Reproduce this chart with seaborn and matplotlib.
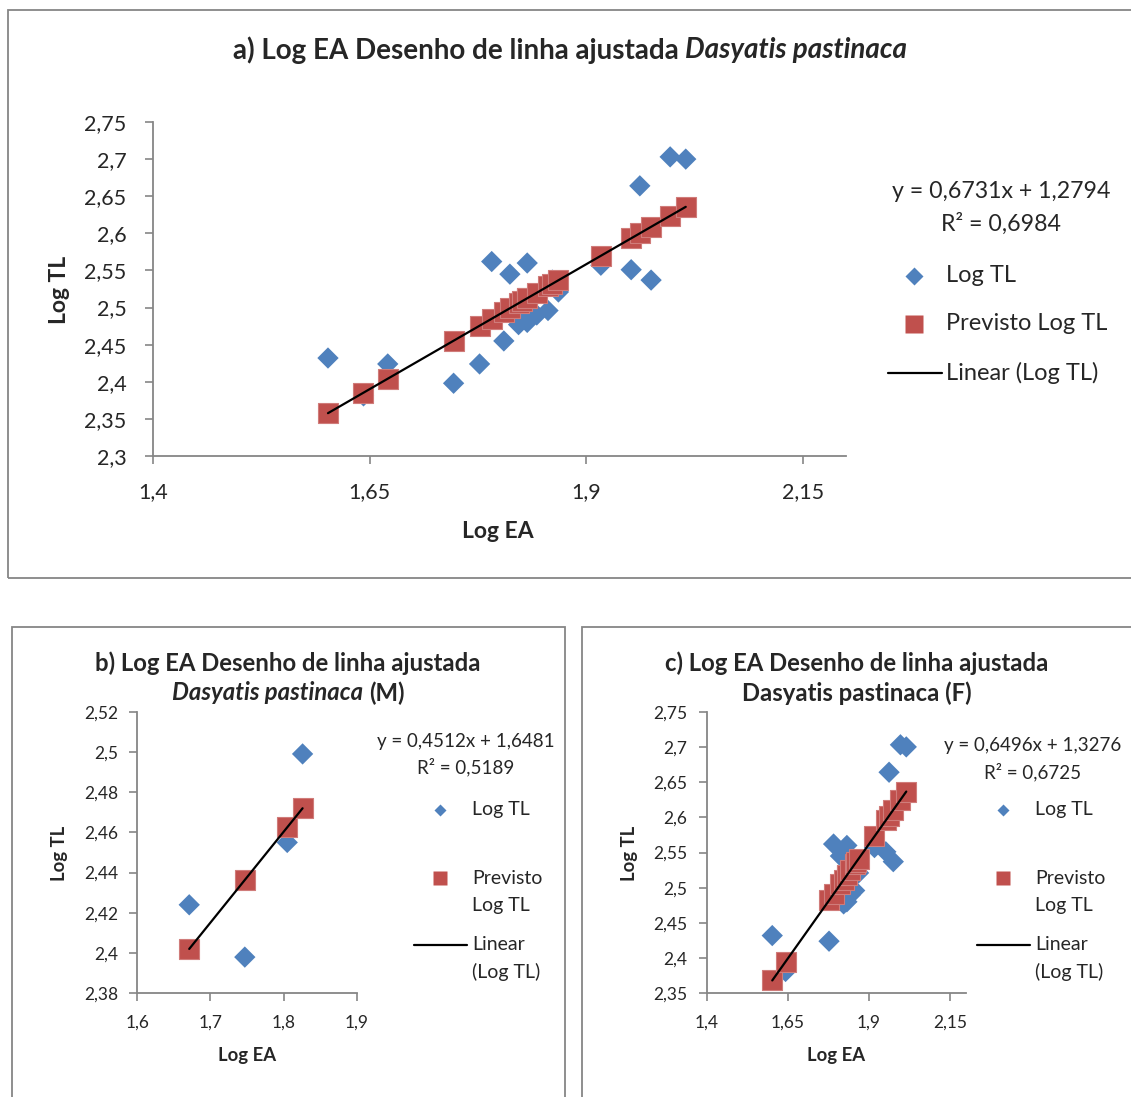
import numpy as np
import pandas as pd
import matplotlib
matplotlib.use("Agg")
import matplotlib.pyplot as plt
import seaborn as sns
from matplotlib.lines import Line2D
from matplotlib.patches import Rectangle

# ---- data: log standard length (EA) vs log total length (TL) ----
ea_all = [1.602, 1.643, 1.671, 1.747, 1.777, 1.791, 1.805, 1.812, 1.822, 1.826, 1.832,
          1.832, 1.843, 1.856, 1.861, 1.868, 1.917, 1.952, 1.962, 1.975, 1.997, 2.015]
tl_all = [2.432, 2.381, 2.424, 2.398, 2.424, 2.562, 2.455, 2.545, 2.477, 2.499, 2.560,
          2.480, 2.490, 2.496, 2.537, 2.521, 2.557, 2.551, 2.664, 2.537, 2.703, 2.700]

ea_male = [1.671, 1.747, 1.805, 1.826]
tl_male = [2.424, 2.398, 2.455, 2.499]

ea_female = [1.602, 1.643, 1.777, 1.791, 1.812, 1.822, 1.832, 1.832, 1.843, 1.856,
             1.861, 1.868, 1.917, 1.952, 1.962, 1.975, 1.997, 2.015]
tl_female = [2.432, 2.381, 2.424, 2.562, 2.545, 2.477, 2.560, 2.480, 2.490, 2.496,
             2.537, 2.521, 2.557, 2.551, 2.664, 2.537, 2.703, 2.700]

# fitted regression lines (slope, intercept, R²)
fit_all = (0.6731, 1.2794, 0.6984)
fit_male = (0.4512, 1.6481, 0.5189)
fit_female = (0.6496, 1.3276, 0.6725)

# axis ticks
xticks_wide = [1.4, 1.65, 1.9, 2.15]
xlabels_wide = ["1,4", "1,65", "1,9", "2,15"]
yticks_a = [2.3, 2.35, 2.4, 2.45, 2.5, 2.55, 2.6, 2.65, 2.7, 2.75]
ylabels_a = ["2,3", "2,35", "2,4", "2,45", "2,5", "2,55", "2,6", "2,65", "2,7", "2,75"]
xticks_b = [1.6, 1.7, 1.8, 1.9]
xlabels_b = ["1,6", "1,7", "1,8", "1,9"]
yticks_b = [2.38, 2.40, 2.42, 2.44, 2.46, 2.48, 2.50, 2.52]
ylabels_b = ["2,38", "2,4", "2,42", "2,44", "2,46", "2,48", "2,5", "2,52"]
yticks_c = [2.35, 2.4, 2.45, 2.5, 2.55, 2.6, 2.65, 2.7, 2.75]
ylabels_c = ["2,35", "2,4", "2,45", "2,5", "2,55", "2,6", "2,65", "2,7", "2,75"]

sns.set_theme(style="white")
plt.rcParams["font.family"] = ["Lato", "DejaVu Sans"]

W, H = 1131, 1097
fig = plt.figure(figsize=(W / 100, H / 100), dpi=100)
fig.patch.set_facecolor("white")
renderer = fig.canvas.get_renderer()

BLUE = "#4F81BD"
RED = "#C0504D"
AXIS = "#868686"


def fx(px):
    return px / W


def fy(py):
    return 1 - py / H


def chart_frame(l, t, r, b):
    fig.add_artist(Rectangle((fx(l), fy(b)), (r - l) / W, (b - t) / H,
                             transform=fig.transFigure, fill=False,
                             edgecolor=AXIS, linewidth=1.3))


def mixed_line(xc, yc, parts, size):
    """Centered single line made of differently styled bold pieces."""
    objs = [fig.text(0, fy(yc), s, fontsize=size, fontweight="bold",
                     fontstyle=st, ha="left", va="center") for s, st in parts]
    probe = fig.text(0, 0, "a a", fontsize=size, fontweight="bold")
    probe2 = fig.text(0, 0, "aa", fontsize=size, fontweight="bold")
    space = probe.get_window_extent(renderer).width - probe2.get_window_extent(renderer).width
    probe.remove(); probe2.remove()
    widths = [o.get_window_extent(renderer).width for o in objs]
    total = sum(widths) + space * (len(objs) - 1)
    x = xc - total / 2
    for o, w in zip(objs, widths):
        o.set_x(fx(x))
        x += w + space


def panel(rect, ea, tl, fit, xlim, xticks, xlabels, ylim, yticks, ylabels,
          tick_fs, lab_fs, ypad, xpad, xlab_pos, ylab_pos):
    l, t, r, b = rect
    ax = fig.add_axes([fx(l), fy(b), (r - l) / W, (b - t) / H])
    slope, intercept, _ = fit
    df = pd.DataFrame({"Log EA": ea, "Log TL": tl})
    df["Previsto Log TL"] = slope * df["Log EA"] + intercept
    sns.scatterplot(data=df, x="Log EA", y="Log TL", marker="D", s=118,
                    color=BLUE, edgecolor="none", ax=ax, zorder=2)
    sns.scatterplot(data=df, x="Log EA", y="Previsto Log TL", marker="s", s=200,
                    color=RED, edgecolor="#D07C7A", linewidth=0.8, ax=ax, zorder=3)
    xs = np.array([df["Log EA"].min(), df["Log EA"].max()])
    sns.lineplot(x=xs, y=slope * xs + intercept, color="black", linewidth=1.6,
                 ax=ax, zorder=4)
    ax.set_xlim(*xlim)
    ax.set_ylim(*ylim)
    ax.set_xticks(xticks)
    ax.set_xticklabels(xlabels)
    ax.set_yticks(yticks)
    ax.set_yticklabels(ylabels)
    for s in ["top", "right"]:
        ax.spines[s].set_visible(False)
    for s in ["left", "bottom"]:
        ax.spines[s].set_color(AXIS)
        ax.spines[s].set_linewidth(1.3)
    ax.tick_params(axis="y", direction="out", length=6, width=1.2, color=AXIS,
                   labelsize=tick_fs, pad=ypad, left=True)
    ax.tick_params(axis="x", direction="out", length=6, width=1.2, color=AXIS,
                   labelsize=tick_fs, pad=xpad, bottom=True)
    ax.set_xlabel("")
    ax.set_ylabel("")
    ax.set_facecolor("none")
    fig.text(fx(xlab_pos[0]), fy(xlab_pos[1]), "Log EA", fontsize=lab_fs,
             fontweight="bold", ha="center", va="center")
    fig.text(fx(ylab_pos[0]), fy(ylab_pos[1]), "Log TL", fontsize=lab_fs,
             fontweight="bold", ha="center", va="center", rotation=90)
    return ax


def legend_block(fit, eq_c, eq_y, r2_y, mx, tx, rows, eq_fs, fs, d_ms, s_ms, line_span):
    slope, intercept, r2 = fit
    eq = f"y = {slope:.4f}x + {intercept:.4f}".replace(".", ",")
    r2s = f"R² = {r2:.4f}".replace(".", ",")
    fig.text(fx(eq_c), fy(eq_y), eq, fontsize=eq_fs, ha="center", va="center")
    fig.text(fx(eq_c), fy(r2_y), r2s, fontsize=eq_fs, ha="center", va="center")
    (y1, lines1), (y2, lines2), (y3, lines3) = rows
    fig.add_artist(Line2D([fx(mx)], [fy(y1)], marker="D", markersize=d_ms,
                          color=BLUE, markeredgecolor="none", transform=fig.transFigure))
    fig.add_artist(Line2D([fx(mx)], [fy(y2)], marker="s", markersize=s_ms,
                          color=RED, markeredgecolor="none", transform=fig.transFigure))
    fig.add_artist(Line2D([fx(line_span[0]), fx(line_span[1])], [fy(y3), fy(y3)],
                          color="black", linewidth=1.6, transform=fig.transFigure))
    for lines in (lines1, lines2, lines3):
        for yy, lab in lines:
            fig.text(fx(tx), fy(yy), lab, fontsize=fs, ha="left", va="center")


# ---------- frames ----------
chart_frame(8, 10, 1135, 578)
chart_frame(12, 627, 565, 1105)
chart_frame(582, 627, 1140, 1105)

# ---------- panel a ----------
panel((153, 122, 846, 456), ea_all, tl_all, fit_all, (1.4, 2.2), xticks_wide,
      xlabels_wide, (2.3, 2.75), yticks_a, ylabels_a, 15.5, 16.5, 13, 13,
      (498, 532), (60, 290))
mixed_line(570, 50, [("a) Log EA Desenho de linha ajustada", "normal"),
                     ("Dasyatis pastinaca", "italic")], 20)
legend_block(fit_all, 1001, 191, 224, 914, 946,
             [(276, [(276, "Log TL")]),
              (324, [(324, "Previsto Log TL")]),
              (373, [(373, "Linear (Log TL)")])],
             16.7, 17, 9.2, 13, (888, 942))

# ---------- panel b ----------
panel((137.3, 711.7, 356.7, 993.3), ea_male, tl_male, fit_male, (1.6, 1.9),
      xticks_b, xlabels_b, (2.38, 2.52), yticks_b, ylabels_b, 12.5, 13.3, 8, 9,
      (247, 1055), (60, 853))
mixed_line(288, 663, [("b) Log EA Desenho de linha ajustada", "normal")], 17.2)
mixed_line(288, 693, [("Dasyatis pastinaca", "italic"), ("(M)", "normal")], 17.2)
legend_block(fit_male, 466, 742, 767, 440, 472,
             [(810, [(810, "Log TL")]),
              (878, [(878, "Previsto"), (905, "Log TL")]),
              (945, [(945, "Linear"), (972, "(Log TL)")])],
             13.5, 14, 6.2, 9.4, (414, 467))

# ---------- panel c ----------
panel((706.7, 711.7, 966.3, 993.3), ea_female, tl_female, fit_female, (1.4, 2.2),
      xticks_wide, xlabels_wide, (2.35, 2.75), yticks_c, ylabels_c, 12.5, 13.3, 8, 9,
      (836, 1055), (630, 853))
mixed_line(857, 663, [("c) Log EA Desenho de linha ajustada", "normal")], 17.2)
mixed_line(857, 693, [("Dasyatis pastinaca (F)", "normal")], 17.2)
legend_block(fit_female, 1033, 746, 772, 1003, 1035,
             [(810, [(810, "Log TL")]),
              (878, [(878, "Previsto"), (905, "Log TL")]),
              (945, [(945, "Linear"), (972, "(Log TL)")])],
             13.5, 14, 6.2, 9.4, (977, 1030))

fig.savefig("out.png", dpi=100, facecolor="white")
